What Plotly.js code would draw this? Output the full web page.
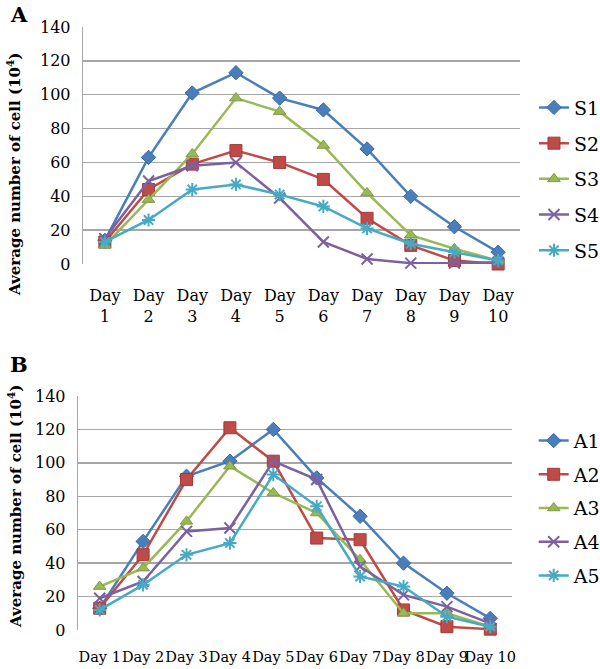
<!DOCTYPE html>
<html>
<head>
<meta charset="utf-8">
<script src="https://cdn.plot.ly/plotly-3.0.1.min.js"></script>
<style>
  html, body { margin: 0; padding: 0; background: #fff; }
  #chartA { position: absolute; left: 0; top: 0; width: 600px; height: 335px; }
  #chartB { position: absolute; left: 0; top: 335px; width: 600px; height: 334px; }
</style>
</head>
<body>
<div id="chartA"></div>
<div id="chartB"></div>
<script>
// ---- Data ----
const daysA = ["Day<br>1","Day<br>2","Day<br>3","Day<br>4","Day<br>5","Day<br>6","Day<br>7","Day<br>8","Day<br>9","Day<br>10"];
const daysB = ["Day 1","Day 2","Day 3","Day 4","Day 5","Day 6","Day 7","Day 8","Day 9","Day 10"];

const namesA = ["S1","S2","S3","S4","S5"];
const S1 = [14, 63, 101, 113, 98, 91, 68, 40, 22, 7];
const S2 = [13, 44, 59, 67, 60, 50, 27, 11, 2, 0];
const S3 = [11, 38, 65, 98, 90, 70, 42, 17, 9, 2];
const S4 = [15, 49, 58, 60, 39, 13, 3, 0.5, 0.5, 1];
const S5 = [13, 26, 44, 47, 41, 34, 21, 12, 7, 2];

const namesB = ["A1","A2","A3","A4","A5"];
const A1 = [13, 53, 92, 101, 120, 91, 68, 40, 22, 7];
const A2 = [13, 45, 90, 121, 101, 55, 54, 12, 2, 0.5];
const A3 = [26, 37, 65, 98, 82, 70, 42, 10, 10, 2];
const A4 = [19, 29, 59, 61, 101, 90, 38, 21, 14, 4];
const A5 = [12, 27, 45, 52, 93, 74, 32, 26, 8, 2];

const yTickVals = [0, 20, 40, 60, 80, 100, 120, 140];
const yTitle = "Average number of cell (10<sup>4</sup>)";

// ---- Styles ----
const colors = ["#4a7ebb", "#be4b48", "#98b954", "#7d60a0", "#46aac5"];
const edge = ["#3a6aa3", "#a43a37", "#7f9c43", "#6a4f8a", "#3592aa"];
const symbols = ["diamond", "square", "triangle-up", "x-thin-open", "asterisk-open"];
const sizes = [11, 12, 11, 11, 11];

function makeTraces(x, series, names) {
  return series.map((y, i) => {
    const open = symbols[i].endsWith("open");
    return {
      type: "scatter", mode: "lines+markers", x: x, y: y, name: names[i],
      legendgroup: names[i],
      line: { color: colors[i], width: 2.5 },
      marker: {
        symbol: symbols[i], size: sizes[i], color: colors[i],
        line: { color: open ? colors[i] : edge[i], width: open ? 2 : 1 }
      },
      cliponaxis: false
    };
  });
}

const fam = "DejaVu Serif, Liberation Serif, serif";

function layoutFor(cats, letter, m, legendX, legendY, gap, xStand, xFont) {
  const pw = 600 - m.l - m.r;
  const ph = m.h - m.t - m.b;
  return {
    width: 600,
    height: m.h,
    margin: { l: m.l, r: m.r, t: m.t, b: m.b, pad: 0, autoexpand: false },
    paper_bgcolor: "#fff",
    plot_bgcolor: "#fff",
    font: { family: fam, size: 16, color: "#000" },
    showlegend: true,
    legend: {
      x: legendX, y: legendY, xanchor: "left", yanchor: "top",
      font: { family: fam, size: 19, color: "#000" },
      traceorder: "grouped", tracegroupgap: gap,
      bgcolor: "rgba(0,0,0,0)", borderwidth: 0
    },
    xaxis: {
      type: "category",
      categoryorder: "array", categoryarray: cats,
      range: [-0.5, 9.5],
      showgrid: false, zeroline: false, showline: false,
      ticks: "", tickangle: 0, ticklabelstandoff: xStand,
      tickfont: { family: fam, size: xFont, color: "#000" },
      fixedrange: true
    },
    yaxis: {
      range: [0, 140],
      tickvals: yTickVals,
      ticktext: yTickVals.map(String),
      showgrid: true, gridcolor: "#a6a6a6", gridwidth: 1.3,
      zeroline: false,
      showline: true, linecolor: "#a6a6a6", linewidth: 1.3,
      ticks: "", ticklabelstandoff: 8,
      tickfont: { family: fam, size: 16, color: "#000" },
      fixedrange: true
    },
    annotations: [{
      text: "<b>" + letter + "</b>",
      xref: "paper", yref: "paper",
      x: (8 - m.l) / pw,
      y: 1 + (m.t - m.letterTop) / ph,
      xanchor: "left", yanchor: "top", showarrow: false,
      font: { family: fam, size: 21, color: "#000" }
    }, {
      text: "<b>" + yTitle + "</b>",
      xref: "paper", yref: "paper",
      x: (m.titleX - m.l) / pw,
      y: (m.h - m.b - m.titleY) / ph,
      xanchor: "center", yanchor: "middle", textangle: -90, showarrow: false,
      font: { family: fam, size: 15, color: "#000" }
    }]
  };
}

const mA = { l: 83, r: 80, t: 27, b: 71, h: 335, letterTop: 0, titleX: 14, titleY: 175 };
const mB = { l: 78, r: 88, t: 61, b: 39, h: 334, letterTop: 15, titleX: 15, titleY: 172 };

Plotly.newPlot("chartA",
  makeTraces(daysA, [S1, S2, S3, S4, S5], namesA),
  layoutFor(daysA, "A", mA, 1.032, 0.74, 8, 20, 16),
  { staticPlot: true, displayModeBar: false });

Plotly.newPlot("chartB",
  makeTraces(daysB, [A1, A2, A3, A4, A5], namesB),
  layoutFor(daysB, "B", mB, 1.05, 0.89, 6, 16, 14.5),
  { staticPlot: true, displayModeBar: false });
</script>
</body>
</html>
